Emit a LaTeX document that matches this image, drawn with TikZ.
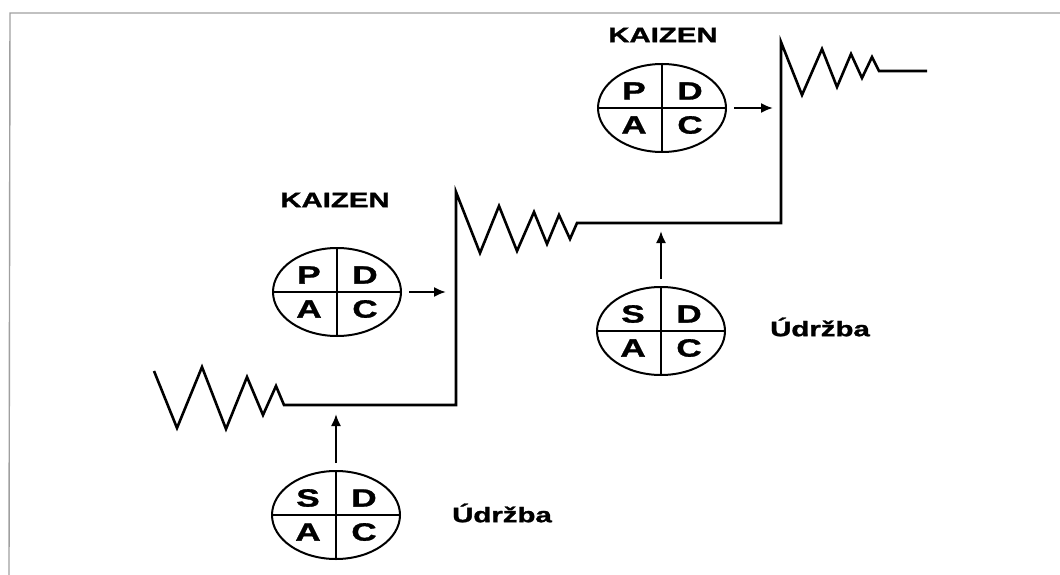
\documentclass[tikz,border=0pt]{standalone}
\usepackage{graphicx}
\usepackage{fontspec}
\setmainfont{Liberation Sans}
\newfontfamily\heavy{Liberation Sans Bold}[FakeBold=1.2]
\usetikzlibrary{shapes.geometric,arrows.meta,positioning}

\newcommand{\wide}[1]{\scalebox{1.4}[1]{#1}}
% one PDCA / SDCA wheel: name, x, y, four letters
\newcommand{\wheel}[7]{%
  \node[cyc] (#1) at (#2,#3) {};
  \draw[wline] (#1.north) -- (#1.south) (#1.west) -- (#1.east);
  \node[ltr, xshift=-28pt, yshift=17pt] (#1-a) at (#1) {\wide{#4}};
  \node[ltr, xshift=28pt, yshift=17pt] (#1-b) at (#1) {\wide{#5}};
  \node[ltr, xshift=-28pt, yshift=-17pt] (#1-c) at (#1) {\wide{#6}};
  \node[ltr, xshift=28pt, yshift=-17pt] (#1-d) at (#1) {\wide{#7}};
}

\tikzset{
  cyc/.style={ellipse, draw, line width=2pt, minimum width=128pt, minimum height=88pt, inner sep=0pt},
  wline/.style={line width=2pt},
  ltr/.style={font=\fontsize{25}{25}\heavy\bfseries, inner sep=0pt},
  lbl/.style={font=\fontsize{21}{21}\heavy\bfseries, inner sep=0pt},
  stair/.style={line width=2.6pt, line join=miter},
  push/.style={line width=2pt, -{Latex[length=12pt,width=10pt]}, shorten <=7pt}
}

\begin{document}
\begin{tikzpicture}[x=1pt, y=-1pt]
  \useasboundingbox (0,0) rectangle (1060,575);
  % frame
  \draw[gray!75, line width=1.4pt] (9,575) -- (10,13) -- (1060,13);

  % the staircase
  \draw[stair] (154,371) -- (177,428) -- (202,367) -- (226,429) -- (247,377)
    -- (263,415) -- (276,386) -- (284,405) -- (456,405) -- (456,192)
    -- (480,253) -- (499,206) -- (517,251) -- (534,212) -- (547,244)
    -- (559,215) -- (570,239) -- (577,223) -- (781,223) -- (781,42)
    -- (802,95) -- (822,49) -- (837,87) -- (851,54) -- (862,78)
    -- (872,57) -- (879,71) -- (927,71);

  \coordinate (hit1) at (446,292);
  \coordinate (hit2) at (773,108);
  \coordinate (hit3) at (336,414);
  \coordinate (hit4) at (661,231);

  \wheel{pdca1}{337}{292}{P}{D}{A}{C}
  \wheel{pdca2}{662}{108}{P}{D}{A}{C}
  \wheel{sdca1}{336}{515}{S}{D}{A}{C}
  \wheel{sdca2}{661}{331}{S}{D}{A}{C}

  \node[lbl] (kaizen1) at (335,200) {\wide{KAIZEN}};
  \node[lbl] (kaizen2) at (663,35) {\wide{KAIZEN}};
  \node[lbl] (udrzba1) at (502,513) {\wide{Údržba}};
  \node[lbl] (udrzba2) at (820,327) {\wide{Údržba}};

  \draw[push] (pdca1.east) -- (hit1);
  \draw[push] (pdca2.east) -- (hit2);
  \draw[push] (sdca1.north) -- (hit3);
  \draw[push] (sdca2.north) -- (hit4);
\end{tikzpicture}
\end{document}
